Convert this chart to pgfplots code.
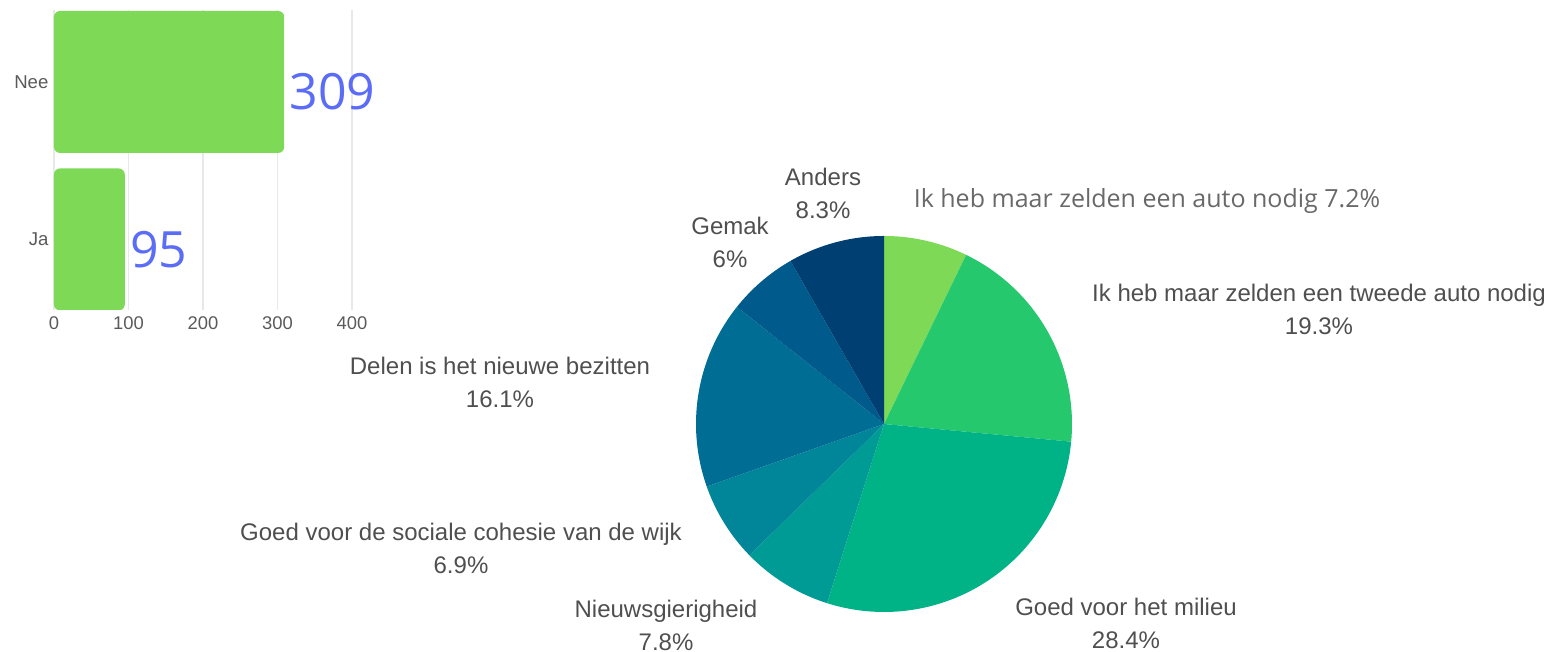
\documentclass[border=0pt]{standalone}
\usepackage{fontspec}
\setmainfont{Liberation Sans}
\newfontfamily\opensans{Open Sans}
\usepackage{pgfplots}
\pgfplotsset{compat=1.18}

\definecolor{barc}{HTML}{7ED957}
\definecolor{valc}{HTML}{5B6CF7}
\definecolor{gridc}{HTML}{E8E8E8}
\definecolor{labc}{HTML}{4F4F4F}
\definecolor{tickc}{HTML}{5A5A5A}
\definecolor{s1}{HTML}{7ED957}
\definecolor{s2}{HTML}{26C86E}
\definecolor{s3}{HTML}{00B386}
\definecolor{s4}{HTML}{009B94}
\definecolor{s5}{HTML}{008599}
\definecolor{s6}{HTML}{006D94}
\definecolor{s7}{HTML}{005A8C}
\definecolor{s8}{HTML}{003F72}

\tikzset{
  lbl/.style={font=\fontsize{12}{16.5}\selectfont, text=labc, align=center, inner sep=0pt}
}

% pie slice: start and end as cumulative percent, colour
\newcommand{\slice}[3]{%
  \addplot[draw=none, fill=#3, domain=3.6*#1:3.6*#2, samples=60]
    ({884+188*sin(x)}, {424-188*cos(x)}) -- (axis cs:884,424) -- cycle;
}

\begin{document}
\begin{tikzpicture}
\useasboundingbox (0,0) rectangle (774pt,326pt);

% pie, laid out in pixel units of the reference
\begin{axis}[
  at={(0pt,0pt)}, anchor=south west,
  scale only axis, width=774pt, height=326pt,
  xmin=0, xmax=1548, ymin=0, ymax=652,
  y dir=reverse, hide axis, clip=false
]
% shares: 7.2, 19.3, 28.4, 7.8, 6.9, 16.1, 6, 8.3
\slice{0}{7.2}{s1}
\slice{7.2}{26.5}{s2}
\slice{26.5}{54.9}{s3}
\slice{54.9}{62.7}{s4}
\slice{62.7}{69.6}{s5}
\slice{69.6}{85.7}{s6}
\slice{85.7}{91.7}{s7}
\slice{91.7}{100}{s8}

\node[lbl, text=labc!85, font=\opensans\fontsize{12.5}{16.5}\selectfont] at (axis cs:1147,201) {Ik heb maar zelden een auto nodig 7.2\%};
\node[lbl] at (axis cs:1319,309) {Ik heb maar zelden een tweede auto nodig\\19.3\%};
\node[lbl] at (axis cs:1126,623) {Goed voor het milieu\\28.4\%};
\node[lbl] at (axis cs:666,625) {Nieuwsgierigheid\\7.8\%};
\node[lbl] at (axis cs:461,548) {Goed voor de sociale cohesie van de wijk\\6.9\%};
\node[lbl] at (axis cs:500,382) {Delen is het nieuwe bezitten\\16.1\%};
\node[lbl] at (axis cs:730,242) {Gemak\\6\%};
\node[lbl] at (axis cs:823,193) {Anders\\8.3\%};
\end{axis}

% bar chart
\begin{axis}[
  at={(27pt,171pt)}, anchor=south west,
  scale only axis, width=149pt, height=150pt,
  xbar, bar width=71pt,
  xmin=0, xmax=400, ymin=-0.448, ymax=1.457,
  xtick={0,100,200,300,400},
  ytick={0,1}, yticklabels={Ja,Nee},
  xmajorgrids, grid style={draw=gridc, line width=0.6pt},
  axis line style={draw=none},
  major tick style={draw=none},
  /pgf/number format/assume math mode=true,
  xticklabel style={font=\fontsize{9.2}{11}\selectfont, text=tickc},
  yticklabel style={font=\fontsize{9.3}{11}\selectfont, text=tickc, xshift=5pt},
  point meta=x,
  nodes near coords,
  nodes near coords style={font=\opensans\fontsize{25}{25}\selectfont, text=valc,
    anchor=west, inner sep=2.5pt, yshift=-5pt}
]
\addplot[fill=barc, draw=none, rounded corners=3pt] coordinates {(95,0) (309,1)};
\end{axis}
\end{tikzpicture}
\end{document}
